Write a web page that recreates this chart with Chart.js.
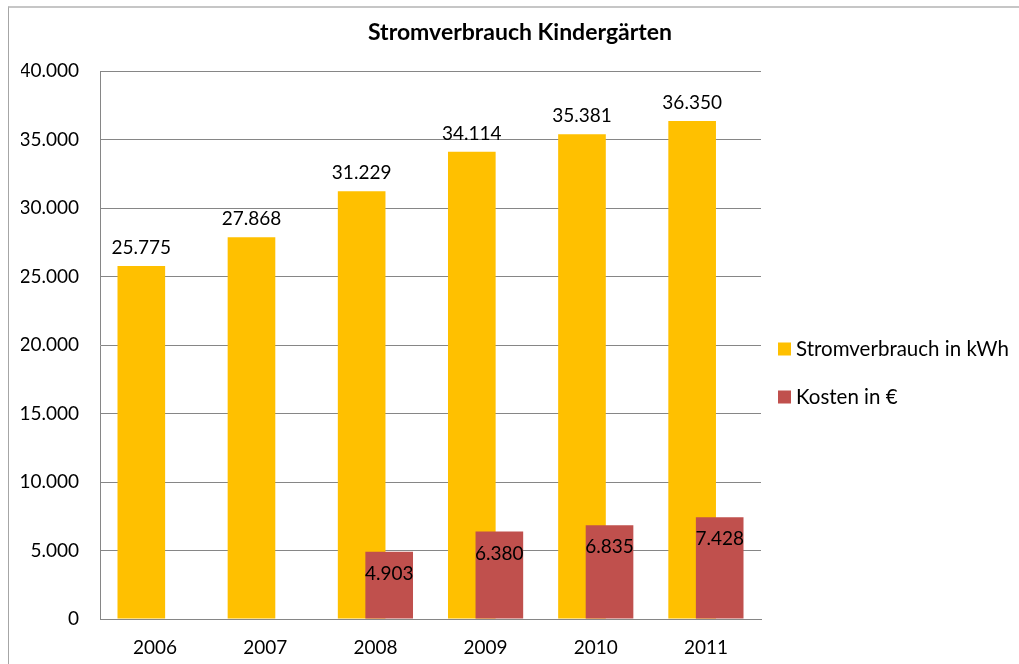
<!DOCTYPE html>
<html><head><meta charset="utf-8">
<script src="https://cdn.jsdelivr.net/npm/chart.js@4/dist/chart.umd.min.js"></script>
<style>
html,body{margin:0;padding:0;background:#fff;}
#wrap{position:relative;width:1019px;height:664px;overflow:hidden;}
#frame{position:absolute;left:8px;top:6px;width:1100px;height:700px;border-top:2px solid #c6c6c6;border-left:1px solid #a6a6a6;}
canvas{position:absolute;left:0;top:0;}
</style></head><body>
<div id="wrap"><div id="frame"></div><canvas id="c" width="1019" height="664"></canvas></div>
<script>
const chartTitle = 'Stromverbrauch Kindergärten';
const years = ['2006', '2007', '2008', '2009', '2010', '2011'];
const seriesNames = ['Stromverbrauch in kWh', 'Kosten in €'];
const stromKWh = [25775, 27868, 31229, 34114, 35381, 36350];
const kostenEUR = [null, null, 4903, 6380, 6835, 7428];
const yMax = 40000;
const yStep = 5000;
const seriesColors = ['#FFC000', '#C0504D'];

const fmt = v => String(v).replace(/\B(?=(\d{3})+(?!\d))/g, '.');
const FONT = 'Lato';
Chart.defaults.font.family = FONT;
Chart.defaults.color = '#000';

// draw the second series on top of the first one
const redOnTop = {
  id: 'redOnTop',
  beforeDatasetDraw(chart, args) { if (args.index === 1) return false; },
  afterDatasetsDraw(chart) { chart.getDatasetMeta(1).controller.draw(); }
};

const valueLabels = {
  id: 'valueLabels',
  afterDatasetsDraw(chart) {
    const ctx = chart.ctx; ctx.save();
    ctx.font = '19px ' + FONT; ctx.fillStyle = '#000';
    ctx.textAlign = 'center'; ctx.textBaseline = 'alphabetic';
    chart.data.datasets.forEach((ds, i) => {
      const meta = chart.getDatasetMeta(i);
      meta.data.forEach((el, j) => {
        const v = ds.data[j]; if (v == null) return;
        const y = i === 0 ? el.y - 12 : el.y + 28;
        ctx.fillText(fmt(v), el.x, y);
      });
    });
    ctx.restore();
  }
};

const sideLegend = {
  id: 'sideLegend',
  afterDraw(chart) {
    const ctx = chart.ctx, a = chart.chartArea;
    ctx.save();
    ctx.font = '20.5px ' + FONT; ctx.fillStyle = '#000';
    ctx.textAlign = 'left'; ctx.textBaseline = 'alphabetic';
    const rowY = [349, 397];
    chart.data.datasets.forEach((ds, i) => {
      const bx = a.right + 17;
      ctx.fillStyle = ds.backgroundColor;
      ctx.fillRect(bx, rowY[i] - 6.5, 13, 13);
      ctx.fillStyle = '#000';
      ctx.fillText(ds.label, bx + 18, rowY[i] + 7);
    });
    ctx.restore();
  }
};

new Chart(document.getElementById('c'), {
  type: 'bar',
  data: {
    labels: years,
    datasets: [
      { label: seriesNames[0], data: stromKWh, backgroundColor: seriesColors[0], categoryPercentage: 0.5, barPercentage: 1.73 },
      { label: seriesNames[1], data: kostenEUR, backgroundColor: seriesColors[1], categoryPercentage: 0.5, barPercentage: 1.73 }
    ]
  },
  options: {
    responsive: false, animation: false,
    layout: { padding: { left: 21, right: 0, top: 0, bottom: 0 } },
    plugins: {
      legend: { display: false },
      tooltip: { enabled: false },
      title: { display: true, text: chartTitle, font: { size: 23, weight: 'bold', family: FONT }, color: '#000', padding: { top: 19, bottom: 24.4 } }
    },
    scales: {
      x: {
        grid: { display: false, drawTicks: false },
        border: { display: true, color: '#868686' },
        ticks: { padding: 17, font: { size: 19 }, color: '#000' },
        afterFit(s) { s.height = 45; }
      },
      y: {
        min: 0, max: yMax,
        ticks: { stepSize: yStep, padding: 21, font: { size: 19 }, color: '#000', callback: v => fmt(v) },
        grid: { color: '#868686', drawTicks: false },
        border: { color: '#868686' },
        afterFit(s) { s.width = 79; }
      },
      yR: {
        position: 'right',
        grid: { display: false, drawTicks: false },
        border: { display: false },
        ticks: { display: false },
        afterFit(s) { s.width = 258; }
      }
    }
  },
  plugins: [redOnTop, valueLabels, sideLegend]
});
</script>
</body></html>
